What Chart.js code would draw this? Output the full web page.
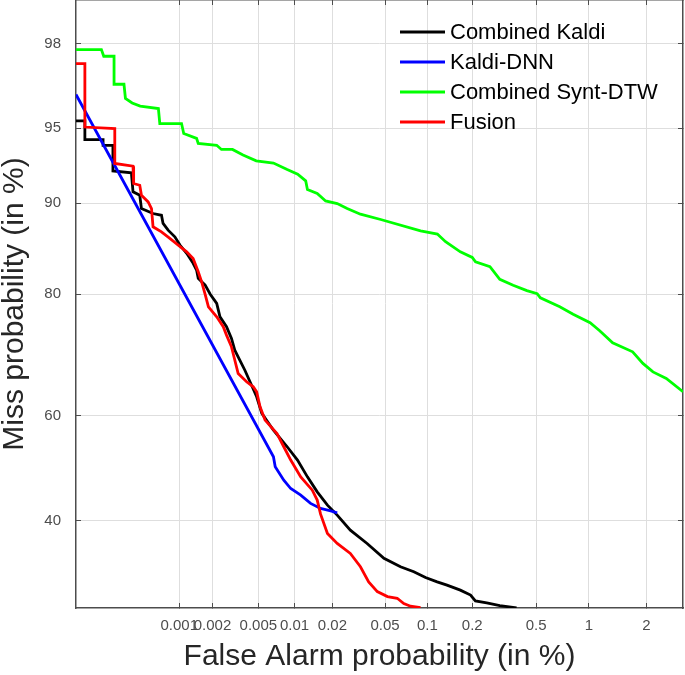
<!DOCTYPE html>
<html>
<head>
<meta charset="utf-8">
<title>DET curves</title>
<script src="https://cdn.jsdelivr.net/npm/chart.js"></script>
<style>
  body { margin: 0; background: #ffffff; }
  canvas { display: block; }
</style>
</head>
<body>
<canvas id="detChart" width="685" height="675"></canvas>
<script>
"use strict";

// värden i %
let kaldiFA = [0.0001, 0.000123, 0.000123, 0.000187, 0.000187, 0.000234, 0.000234, 0.000354, 0.000367, 0.000426,
  0.000442, 0.00057, 0.000684, 0.000708, 0.000789, 0.000911, 0.001015, 0.00117, 0.00134, 0.00144,
  0.00149, 0.00172, 0.00191, 0.00218, 0.00233, 0.00266, 0.00294, 0.00314, 0.00347, 0.00384,
  0.00484, 0.00535, 0.0067, 0.0087, 0.01056, 0.0127, 0.0152, 0.0183, 0.0218, 0.0275,
  0.0368, 0.049, 0.0646, 0.0803, 0.097, 0.1166, 0.136, 0.167, 0.195, 0.2096,
  0.248, 0.3, 0.381];
let kaldiMiss = [95.35, 95.35, 94.4, 94.4, 94.08, 94.08, 92.47, 92.34, 90.93, 90.66,
  89.54, 89.1, 88.94, 88.18, 87.52, 86.85, 85.98, 85.07, 83.92, 83.11,
  82.09, 81.21, 80, 78.74, 76.81, 75.32, 73.5, 71.62, 69.98, 68.24,
  63.55, 60.5, 57.33, 54.17, 51.61, 48.37, 45.49, 42.96, 41.07, 38.28,
  35.84, 33.2, 31.74, 30.87, 29.9, 29.18, 28.64, 27.82, 27.02, 26.1,
  25.78, 25.38, 25.0];

let dnnFA = [0.0001, 0.0067, 0.00693, 0.00816, 0.0093, 0.01122, 0.01346, 0.01616, 0.0194, 0.0218];
let dnnMiss = [96.46, 52.25, 50.31, 47.73, 46.13, 44.87, 43.29, 42.33, 41.87, 41.5];

let syntFA = [0.0001, 0.00018, 0.00019, 0.00024, 0.00024, 0.0003, 0.00031, 0.00036, 0.00043, 0.00064,
  0.00066, 0.00105, 0.0011, 0.00144, 0.00149, 0.00218, 0.0024, 0.003, 0.0037, 0.0048,
  0.0067, 0.0087, 0.0106, 0.0123, 0.0127, 0.0152, 0.0177, 0.0218, 0.026, 0.0328,
  0.0464, 0.0896, 0.117, 0.133, 0.167, 0.2, 0.21, 0.26, 0.3, 0.363,
  0.44, 0.507, 0.53, 0.687, 0.818, 1.016, 1.145, 1.342, 1.704, 1.92,
  2.154, 2.5, 3.0];
let syntMiss = [97.85, 97.85, 97.68, 97.68, 96.83, 96.83, 96.31, 96.13, 96.0, 95.9,
  95.22, 95.22, 94.72, 94.46, 94.18, 94.08, 93.84, 93.84, 93.5, 93.14,
  93.0, 92.57, 92.25, 91.77, 91.11, 90.8, 90.19, 89.97, 89.54, 89.04,
  88.55, 87.46, 87.13, 86.33, 85.24, 84.61, 84.1, 83.51, 81.96, 81.2,
  80.49, 80.09, 79.51, 78.26, 77.2, 75.92, 74.7, 72.8, 71.34, 69.41,
  67.95, 66.81, 64.45];

let fusionFA = [0.0001, 0.000123, 0.000123, 0.000244, 0.000244, 0.000367, 0.000372, 0.000426, 0.000442, 0.000512,
  0.000551, 0.00057, 0.000684, 0.000818, 0.000979, 0.00117, 0.00134, 0.00149, 0.0016, 0.00172,
  0.00184, 0.00218, 0.00249, 0.00266, 0.00294, 0.00314, 0.00336, 0.00397, 0.00453, 0.00484,
  0.00517, 0.0057, 0.00717, 0.00816, 0.0093, 0.01122, 0.01389, 0.0152, 0.01616, 0.0183,
  0.0218, 0.0275, 0.0328, 0.0378, 0.0438, 0.052, 0.0612, 0.0682, 0.0761, 0.0896];
let fusionMiss = [97.48, 97.48, 95.05, 94.97, 92.97, 92.79, 91.57, 91.44, 90.66, 90.11,
  89.54, 87.85, 87.35, 86.68, 85.98, 85.24, 84.49, 82.9, 81.64, 80,
  78.26, 76.81, 75.32, 74.03, 72.16, 69.98, 67.67, 66.23, 65.34, 64.45,
  61.72, 59.24, 56.69, 54.17, 51.61, 48.37, 45.81, 43.92, 41.25, 37.66,
  35.84, 34.05, 31.74, 29.18, 27.58, 26.78, 26.52, 25.7, 25.27, 25.06];

let seriesNames = ["Combined Kaldi", "Kaldi-DNN", "Combined Synt-DTW", "Fusion"];
let seriesColors = ["#000000", "#0000ff", "#00ff00", "#ff0000"];

let xTicks = [0.001, 0.002, 0.005, 0.01, 0.02, 0.05, 0.1, 0.2, 0.5, 1, 2];
let yTicks = [40, 60, 80, 90, 95, 98];
let xRange = [0.0001, 3];
let yRange = [25, 98.82];

// inversa normalfördelningen (Acklam)
function probit(p) {
  const a = [-3.969683028665376e+01, 2.209460984245205e+02, -2.759285104469687e+02, 1.383577518672690e+02, -3.066479806614716e+01, 2.506628277459239e+00];
  const b = [-5.447609879822406e+01, 1.615858368580409e+02, -1.556989798598866e+02, 6.680131188771972e+01, -1.328068155288572e+01];
  const c = [-7.784894002430293e-03, -3.223964580411365e-01, -2.400758277161838e+00, -2.549732539343734e+00, 4.374664141464968e+00, 2.938163982698783e+00];
  const d = [7.784695709041462e-03, 3.224671290700398e-01, 2.445134137142996e+00, 3.754408661907416e+00];
  const pl = 0.02425;
  if (p < pl) {
    const q = Math.sqrt(-2 * Math.log(p));
    return (((((c[0]*q+c[1])*q+c[2])*q+c[3])*q+c[4])*q+c[5]) / ((((d[0]*q+d[1])*q+d[2])*q+d[3])*q+1);
  }
  if (p > 1 - pl) {
    const q = Math.sqrt(-2 * Math.log(1 - p));
    return -(((((c[0]*q+c[1])*q+c[2])*q+c[3])*q+c[4])*q+c[5]) / ((((d[0]*q+d[1])*q+d[2])*q+d[3])*q+1);
  }
  const q = p - 0.5, r = q * q;
  return (((((a[0]*r+a[1])*r+a[2])*r+a[3])*r+a[4])*r+a[5])*q / (((((b[0]*r+b[1])*r+b[2])*r+b[3])*r+b[4])*r+1);
}

function normCdf(z) {
  const t = 1 / (1 + 0.3275911 * Math.abs(z) / Math.SQRT2);
  const y = 1 - (((((1.061405429*t - 1.453152027)*t) + 1.421413741)*t - 0.284496736)*t + 0.254829592)*t * Math.exp(-z*z/2);
  return z >= 0 ? (1 + y) / 2 : (1 - y) / 2;
}

// normalfördelad (probit) skala för DET-diagram
class ProbitScale extends Chart.Scale {
  determineDataLimits() {
    this.min = this.options.min;
    this.max = this.options.max;
  }
  buildTicks() {
    return [];
  }
  configure() {
    super.configure();
    this._lo = probit(this.min / 100);
    this._span = probit(this.max / 100) - this._lo;
  }
  getLabelForValue(value) {
    return String(value);
  }
  getPixelForValue(value) {
    return this.getPixelForDecimal((probit(value / 100) - this._lo) / this._span);
  }
  getValueForPixel(pixel) {
    return 100 * normCdf(this._lo + this.getDecimalForPixel(pixel) * this._span);
  }
}
ProbitScale.id = "probit";
ProbitScale.defaults = {};
Chart.register(ProbitScale);

function toPoints(xs, ys) {
  return xs.map((x, i) => ({ x: x, y: ys[i] }));
}

// fast storlek på axlarna, utan extra utfyllnad för etiketterna
function fixSize(size) {
  return s => {
    if (s.isHorizontal()) s.height = size; else s.width = size;
    s.paddingTop = 0; s.paddingBottom = 0; s.paddingLeft = 0; s.paddingRight = 0;
  };
}

// legenden ritas inne i diagrammet, uppe till höger
const insideLegend = {
  id: "insideLegend",
  afterDraw(chart) {
    const ctx = chart.ctx;
    ctx.save();
    ctx.font = '22px "Liberation Sans", Arial, sans-serif';
    ctx.textBaseline = "middle";
    ctx.textAlign = "left";
    chart.data.datasets.forEach((ds, i) => {
      const y = 32 + i * 30;
      ctx.strokeStyle = ds.borderColor;
      ctx.lineWidth = 3;
      ctx.beginPath();
      ctx.moveTo(400, y);
      ctx.lineTo(445, y);
      ctx.stroke();
      ctx.fillStyle = "#000000";
      ctx.fillText(ds.label, 450, y + 1);
    });
    ctx.restore();
  }
};

Chart.defaults.font.family = '"Liberation Sans", Arial, sans-serif';

const gridColor = "#dedede";
const axisColor = "#4d4d4d";

new Chart(document.getElementById("detChart"), {
  type: "line",
  data: {
    datasets: [
      { label: seriesNames[0], data: toPoints(kaldiFA, kaldiMiss), borderColor: seriesColors[0], order: 4 },
      { label: seriesNames[1], data: toPoints(dnnFA, dnnMiss), borderColor: seriesColors[1], order: 3 },
      { label: seriesNames[2], data: toPoints(syntFA, syntMiss), borderColor: seriesColors[2], order: 2 },
      { label: seriesNames[3], data: toPoints(fusionFA, fusionMiss), borderColor: seriesColors[3], order: 1 }
    ]
  },
  options: {
    responsive: false,
    animation: false,
    devicePixelRatio: 1,
    events: [],
    elements: {
      line: { borderWidth: 2.8, tension: 0, fill: false },
      point: { radius: 0 }
    },
    plugins: {
      legend: { display: false },
      tooltip: { enabled: false }
    },
    scales: {
      x: {
        type: "probit",
        position: "bottom",
        min: xRange[0],
        max: xRange[1],
        afterFit: fixSize(67),
        afterBuildTicks: s => { s.ticks = xTicks.map(v => ({ value: v })); },
        grid: { color: gridColor, tickColor: axisColor, tickLength: -5, lineWidth: 1 },
        border: { color: axisColor, width: 1.5 },
        ticks: { autoSkip: false, maxRotation: 0, minRotation: 0, padding: 14, color: axisColor, font: { size: 15 } },
        title: { display: true, text: "False Alarm probability (in %)", color: "#262626", font: { size: 30 }, padding: { top: 0, bottom: 0 } }
      },
      y: {
        type: "probit",
        position: "left",
        min: yRange[0],
        max: yRange[1],
        afterFit: fixSize(76),
        afterBuildTicks: s => { s.ticks = yTicks.map(v => ({ value: v })); },
        grid: { color: gridColor, tickColor: axisColor, tickLength: -5, lineWidth: 1 },
        border: { color: axisColor, width: 1.5 },
        ticks: { autoSkip: false, padding: 20, color: axisColor, font: { size: 15 } },
        title: { display: true, text: "Miss probability (in %)", color: "#262626", font: { size: 30 }, padding: { top: -3, bottom: 0 } }
      },
      x2: {
        type: "probit",
        position: "top",
        min: xRange[0],
        max: xRange[1],
        afterFit: fixSize(0),
        afterBuildTicks: s => { s.ticks = xTicks.map(v => ({ value: v })); },
        grid: { drawOnChartArea: false, tickColor: axisColor, tickLength: -5 },
        border: { color: axisColor, width: 1.5 },
        ticks: { display: false }
      },
      y2: {
        type: "probit",
        position: "right",
        min: yRange[0],
        max: yRange[1],
        afterFit: fixSize(2),
        afterBuildTicks: s => { s.ticks = yTicks.map(v => ({ value: v })); },
        grid: { drawOnChartArea: false, tickColor: axisColor, tickLength: -5 },
        border: { color: axisColor, width: 1.5 },
        ticks: { display: false }
      }
    }
  },
  plugins: [insideLegend]
});
</script>
</body>
</html>
